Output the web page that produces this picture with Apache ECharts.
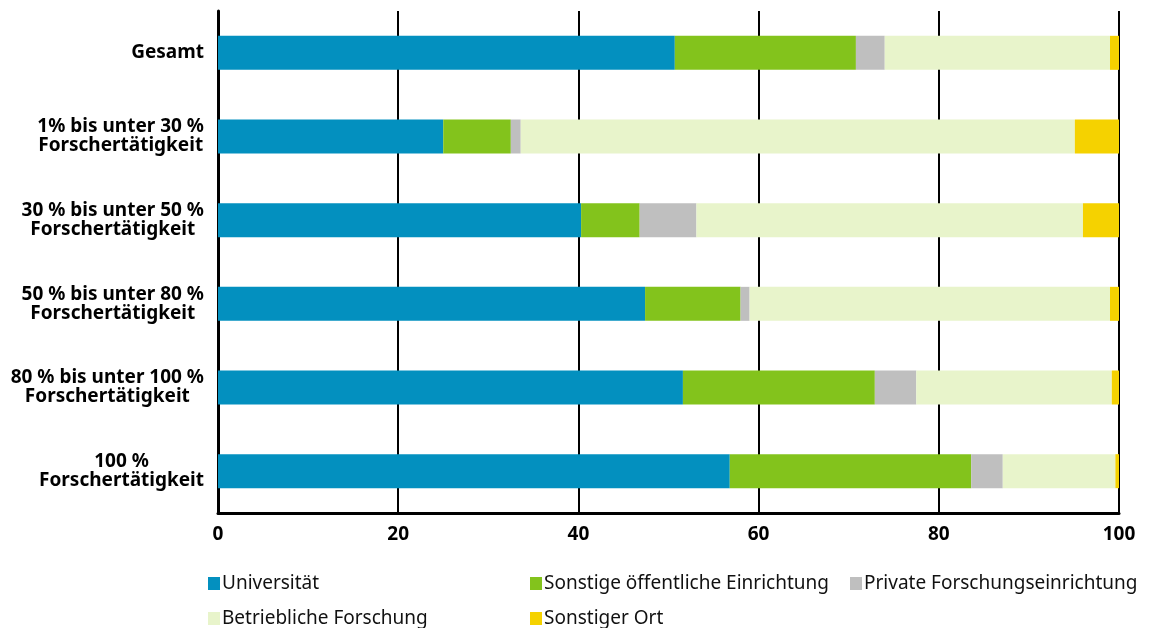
<!DOCTYPE html>
<html>
<head>
<meta charset="utf-8">
<script src="https://cdn.jsdelivr.net/npm/echarts@6/dist/echarts.min.js"></script>
<style>
    html, body { margin: 0; padding: 0; background: #fff; }
    #chart { width: 1151px; height: 628px; }
</style>
</head>
<body>
<div id="chart"></div>
<script>
    var categories = [
        'Gesamt',
        '1% bis unter 30 %\nForschertätigkeit',
        '30 % bis unter 50 %\nForschertätigkeit',
        '50 % bis unter 80 %\nForschertätigkeit',
        '80 % bis unter 100 %\nForschertätigkeit',
        '100 %\nForschertätigkeit'
    ];
    var universitaet = [50.7, 25.0, 40.3, 47.4, 51.6, 56.8];
    var sonstigeOeffentliche = [20.1, 7.5, 6.5, 10.6, 21.3, 26.8];
    var privateForschung = [3.2, 1.1, 6.3, 1.0, 4.6, 3.5];
    var betrieblicheForschung = [25.0, 61.5, 42.9, 40.0, 21.7, 12.5];
    var sonstigerOrt = [1.0, 4.9, 4.0, 1.0, 0.8, 0.4];
    var xTicks = [0, 20, 40, 60, 80, 100];

    var chartDom = document.getElementById('chart');
    var chartInstance = echarts.init(chartDom);

    // one legend per entry, placed in a 3-column grid
    function legendItem(left, top, name) {
        return {
            left: left,
            top: top,
            padding: 0,
            itemWidth: 12,
            itemHeight: 13,
            itemGap: 0,
            icon: 'rect',
            textStyle: { fontFamily: 'Noto Sans', fontSize: 19, color: '#111', padding: [0, 0, 0, -3] },
            data: [name]
        };
    }

    function barSeries(name, data) {
        return {
            name: name,
            type: 'bar',
            stack: 'total',
            barWidth: 34,
            data: data
        };
    }

    var labelFont = {
        fontFamily: 'Noto Sans',
        fontWeight: 'bold',
        fontSize: 19,
        lineHeight: 19,
        color: '#000'
    };

    var chartOption = {
        animation: false,
        color: ['#0390bf', '#83c31c', '#bfbfbf', '#e8f4cb', '#f5d200'],
        grid: { left: 218, right: 32, top: 11, bottom: 115, containLabel: false },
        legend: [
            legendItem(208, 574, 'Universität'),
            legendItem(530, 574, 'Sonstige öffentliche Einrichtung'),
            legendItem(850, 574, 'Private Forschungseinrichtung'),
            legendItem(208, 609, 'Betriebliche Forschung'),
            legendItem(530, 609, 'Sonstiger Ort')
        ],
        xAxis: {
            type: 'value',
            min: xTicks[0],
            max: xTicks[xTicks.length - 1],
            interval: 20,
            axisLine: { show: true, lineStyle: { color: '#000', width: 3 } },
            axisTick: { show: false },
            splitLine: { show: true, lineStyle: { color: '#000', width: 2 } },
            axisLabel: {
                margin: 12,
                fontFamily: 'Noto Sans',
                fontWeight: 'bold',
                fontSize: 19,
                color: '#000'
            }
        },
        yAxis: {
            type: 'category',
            inverse: true,
            data: categories,
            axisLine: { show: true, lineStyle: { color: '#000', width: 3 } },
            axisTick: { show: false },
            axisLabel: {
                margin: 14,
                align: 'right',
                fontFamily: labelFont.fontFamily,
                fontWeight: labelFont.fontWeight,
                fontSize: labelFont.fontSize,
                lineHeight: labelFont.lineHeight,
                color: labelFont.color,
                // lines centred on each other inside a right-aligned block
                formatter: function (value) {
                    return value.split('\n').map(function (line) {
                        return '{c|' + line + '}';
                    }).join('\n');
                },
                rich: {
                    c: {
                        align: 'center',
                        fontFamily: labelFont.fontFamily,
                        fontWeight: labelFont.fontWeight,
                        fontSize: labelFont.fontSize,
                        lineHeight: labelFont.lineHeight,
                        color: labelFont.color
                    }
                }
            }
        },
        series: [
            barSeries('Universität', universitaet),
            barSeries('Sonstige öffentliche Einrichtung', sonstigeOeffentliche),
            barSeries('Private Forschungseinrichtung', privateForschung),
            barSeries('Betriebliche Forschung', betrieblicheForschung),
            barSeries('Sonstiger Ort', sonstigerOrt)
        ]
    };

    chartInstance.setOption(chartOption);
</script>
</body>
</html>
